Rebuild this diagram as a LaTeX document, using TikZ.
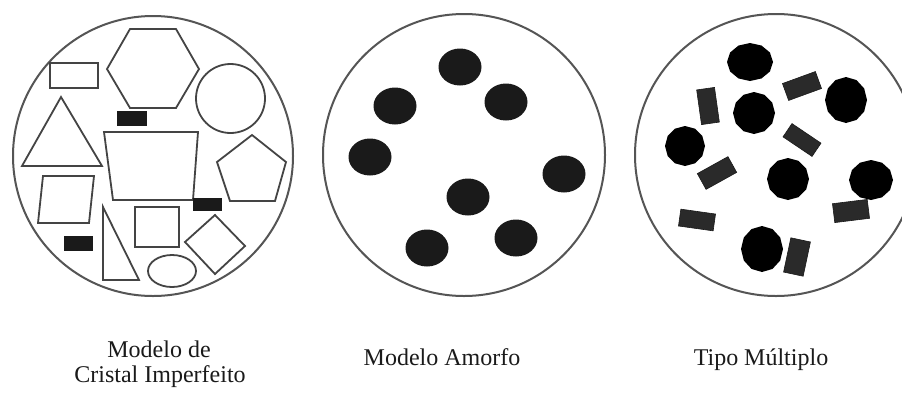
\documentclass[tikz,border=0pt]{standalone}
\usepackage{fontspec}
\setmainfont{Liberation Serif}
\usetikzlibrary{shapes.geometric}
\definecolor{rim}{HTML}{555555}
\definecolor{edge}{HTML}{444444}
\definecolor{ink}{HTML}{1A1A1A}
\definecolor{bar}{HTML}{2A2A2A}
\tikzset{
  rimline/.style={draw=rim, line width=2pt},
  outline/.style={draw=edge, line width=1.8pt, line join=miter, fill=white},
  blackbar/.style={draw=ink, fill=ink, line width=1pt},
  dot/.style={fill=ink},
  stick/.style={rectangle, fill=bar, draw=ink, line width=0.6pt, inner sep=0pt, minimum width=35pt, minimum height=18pt},
  caption/.style={font=\fontsize{24}{25}\selectfont, text=ink, align=center, inner sep=0pt}
}
\newcommand\polyblob[4]{%
  \fill[black] plot[samples=13, domain=0:360] ({#1+#3*cos(\x)},{#2+#4*sin(\x)}) -- cycle;}
\begin{document}
\begin{tikzpicture}[x=1pt,y=-1pt]
\useasboundingbox (0,0) rectangle (902,392);
\fill[white] (0,0) rectangle (902,392);

% ---------- circle 1: imperfect crystal ----------
\draw[rimline] (153,156) circle[radius=140];
\draw[outline] (50,63) rectangle (98,88);
\draw[outline] (130,29) -- (176,29) -- (199,69) -- (176,108) -- (130,108) -- (107,69) -- cycle;
\draw[blackbar] (117,111) rectangle (146,125);
\draw[outline] (230.5,98.5) circle[radius=34.5];
\draw[outline] (61,97) -- (102,166) -- (22,166) -- cycle;
\draw[outline] (104,132) -- (198,132) -- (193,200) -- (113,200) -- cycle;
\draw[outline] (252,135) -- (286,162) -- (275,201) -- (230,201) -- (217,162) -- cycle;
\draw[outline] (43,176) -- (94,176) -- (89,223) -- (38,223) -- cycle;
\draw[blackbar] (64,236) rectangle (92,250);
\draw[outline] (103,207) -- (139,280) -- (103,280) -- cycle;
\draw[outline] (135,207) rectangle (179,247);
\draw[blackbar] (193,198) rectangle (221,210);
\draw[outline] (215,215) -- (245,246) -- (215,274) -- (185,242) -- cycle;
\draw[outline] (172,271) ellipse[x radius=24, y radius=16];

% ---------- circle 2: amorphous ----------
\draw[rimline] (464,155) circle[radius=141];
\foreach \cx/\cy in {460/67, 395/106, 506/102, 370/157, 564/174, 468/197, 427/248, 516/238}
  \fill[dot] (\cx,\cy) ellipse[x radius=21.5, y radius=18.5];

% ---------- circle 3: multiple type ----------
\draw[rimline] (776,155) circle[radius=141];
\polyblob{750}{62}{23}{19}
\polyblob{754}{113}{21}{21}
\polyblob{846}{100}{21}{23}
\polyblob{685}{146}{20}{20}
\polyblob{788}{179}{21}{21}
\polyblob{871}{180}{22}{20}
\polyblob{762}{249}{21}{23}
\node[stick, rotate=98] (s1) at (708,106) {};
\node[stick, rotate=20] (s2) at (802,86) {};
\node[stick, rotate=-34, minimum height=16pt] (s3) at (802,140) {};
\node[stick, rotate=29] (s4) at (717,173) {};
\node[stick, rotate=-8, minimum height=17pt] (s5) at (697,220) {};
\node[stick, rotate=7, minimum height=19pt] (s6) at (851,211) {};
\node[stick, rotate=78, minimum height=20pt] (s7) at (797,257) {};

% ---------- captions ----------
\node[caption, anchor=base] (c1a) at (159,357) {Modelo de};
\node[caption, anchor=base] (c1b) at (160,382) {Cristal Imperfeito};
\node[caption, anchor=base] (c2) at (442,365) {Modelo Amorfo};
\node[caption, anchor=base] (c3) at (761,365) {Tipo Múltiplo};
\end{tikzpicture}
\end{document}
